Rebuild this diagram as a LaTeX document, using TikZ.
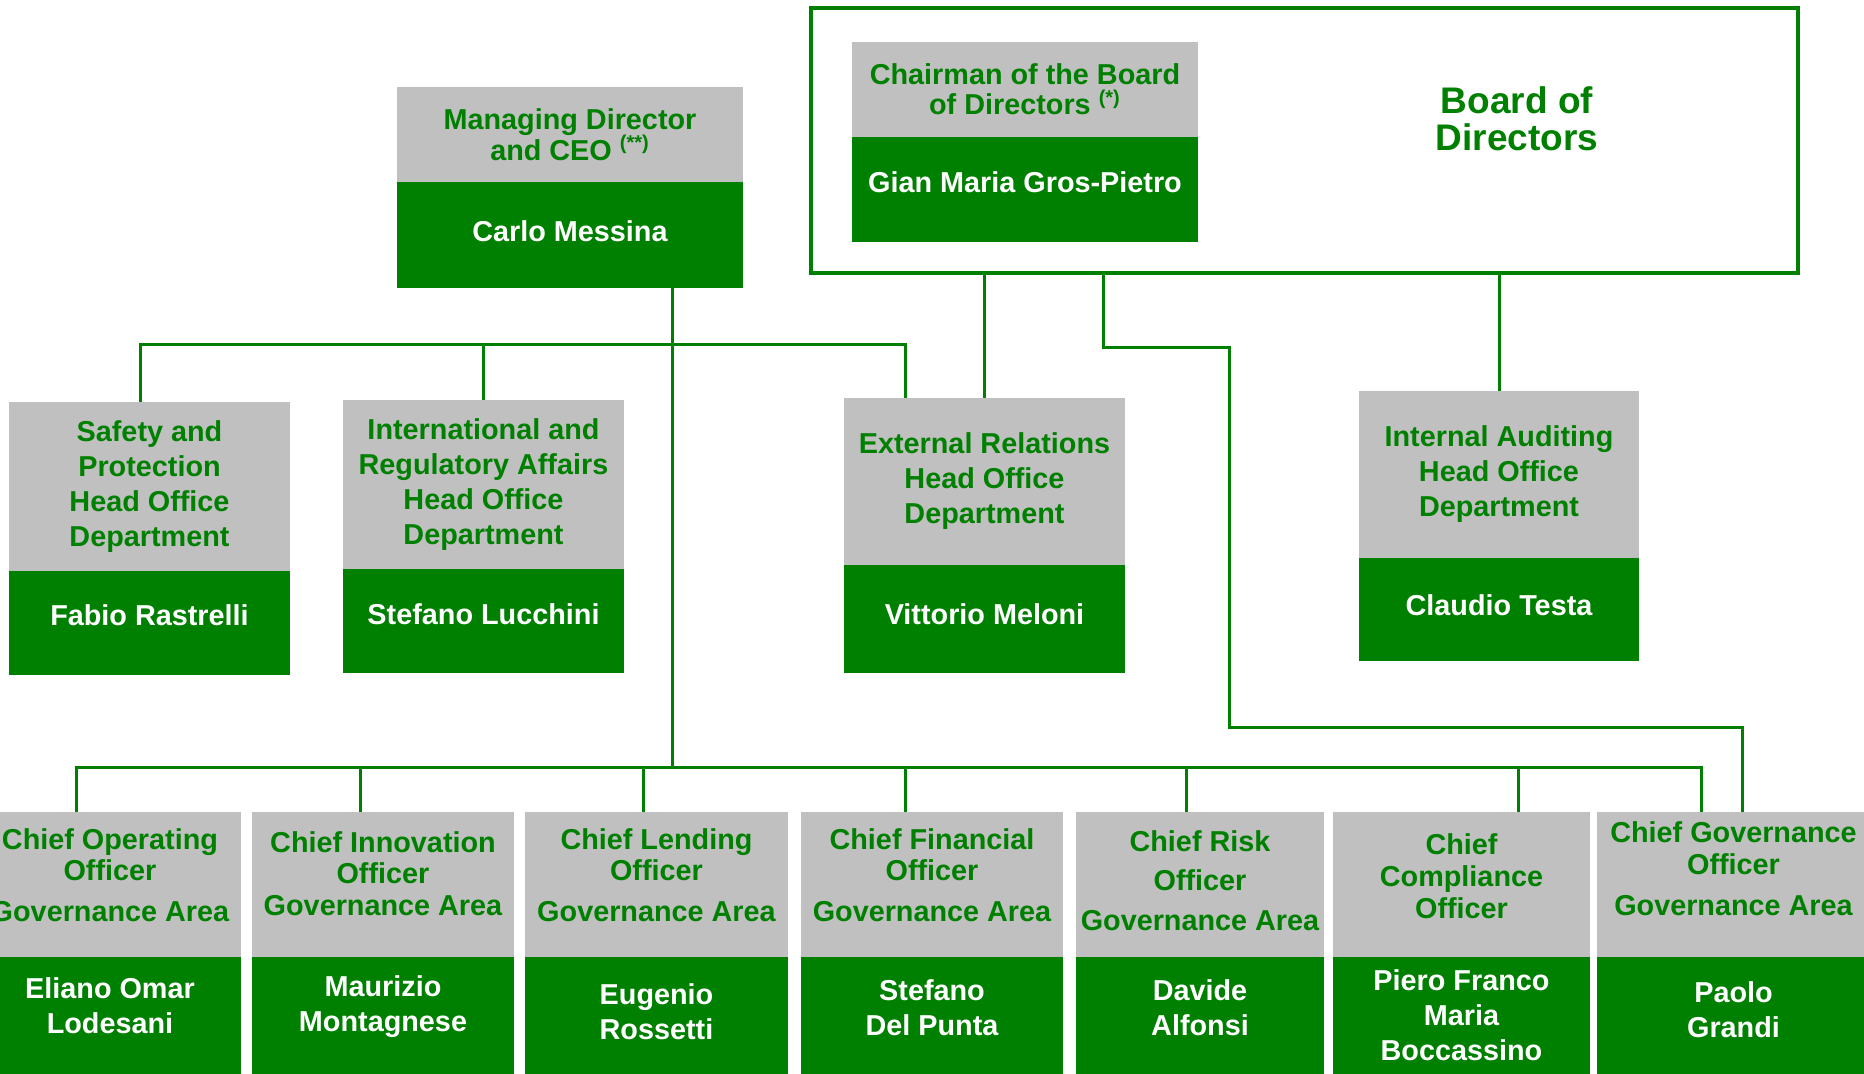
\documentclass[tikz,border=0pt]{standalone}
\usepackage{fontspec}
\setmainfont{Liberation Sans}
\definecolor{bankgreen}{RGB}{0,128,0}
\definecolor{boxgray}{RGB}{192,192,192}
\newcommand{\lowpad}[1]{\rule[-#1]{0pt}{#1}}
\tikzset{
  grayhead/.style={fill=boxgray, text=bankgreen, inner sep=0pt, align=center,
    font=\bfseries\fontsize{14.4}{17.5}\selectfont},
  greenname/.style={fill=bankgreen, text=white, inner sep=0pt, align=center,
    font=\bfseries\fontsize{14.4}{17.5}\selectfont},
  link/.style={draw=bankgreen, line width=1.5pt},
}
\begin{document}
\begin{tikzpicture}[x=0.5pt,y=-0.5pt]
            \useasboundingbox (0,0) rectangle (1864,1074);
            \clip (0,0) rectangle (1864,1074);
            \coordinate (topbus) at (0,345);
            \coordinate (lowbus) at (0,767);
            \coordinate (bendA) at (1229,348);
            \coordinate (bendB) at (1229,728);
            \node[draw=bankgreen, line width=1.75pt, minimum width=493.5pt, minimum height=132.5pt, inner sep=0pt] (board) at (1304.5,140.5) {};
            \node[text=bankgreen, align=center, font=\bfseries\fontsize{18.5}{18.5}\selectfont] (boardlbl) at (1517,119) {Board of\\Directors};
            \node[grayhead, minimum width=173pt, minimum height=47.5pt] (chairT) at (1025,89.5) {Chairman of the Board\\[-2.5pt]of Directors \textsuperscript{(*)}};
            \node[greenname, minimum width=173pt, minimum height=52.5pt] (chairP) at (1025,189.5) {Gian Maria Gros-Pietro\lowpad{7pt}};
            \node[grayhead, minimum width=173pt, minimum height=47.5pt] (ceoT) at (570,134.5) {Managing Director\\[-2pt]and CEO \textsuperscript{(**)}};
            \node[greenname, minimum width=173pt, minimum height=53pt] (ceoP) at (570,235) {Carlo Messina\lowpad{3.5pt}};
            \node[grayhead, minimum width=140.5pt, minimum height=84.5pt] (safT) at (149.5,486.5) {Safety and\\Protection\\Head Office\\Department};
            \node[greenname, minimum width=140.5pt, minimum height=52pt] (safP) at (149.5,623) {Fabio Rastrelli\lowpad{8pt}};
            \node[grayhead, minimum width=140.5pt, minimum height=84.5pt] (intT) at (483.5,484.5) {International and\\Regulatory Affairs\\Head Office\\Department};
            \node[greenname, minimum width=140.5pt, minimum height=52pt] (intP) at (483.5,621) {Stefano Lucchini\lowpad{7pt}};
            \node[grayhead, minimum width=140.5pt, minimum height=83.5pt] (extT) at (984.5,481.5) {External Relations\\Head Office\\Department};
            \node[greenname, minimum width=140.5pt, minimum height=54pt] (extP) at (984.5,619) {Vittorio Meloni\lowpad{5pt}};
            \node[grayhead, minimum width=140pt, minimum height=83.5pt] (audT) at (1499,474.5) {Internal Auditing\\Head Office\\Department};
            \node[greenname, minimum width=140pt, minimum height=51.5pt] (audP) at (1499,609.5) {Claudio Testa\lowpad{4pt}};
            \node[grayhead, minimum width=131pt, minimum height=72.5pt] (cooT) at (110,884.5) {Chief Operating\\[-2pt]Officer\\[3pt]Governance Area\lowpad{9pt}};
            \node[greenname, minimum width=131pt, minimum height=58.5pt] (cooP) at (110,1015.5) {Eliano Omar\\Lodesani\lowpad{10pt}};
            \node[grayhead, minimum width=131pt, minimum height=72.5pt] (cioT) at (383,884.5) {Chief Innovation\\[-2pt]Officer\\[-1.5pt]Governance Area\lowpad{10.5pt}};
            \node[greenname, minimum width=131pt, minimum height=58.5pt] (cioP) at (383,1015.5) {Maurizio\\Montagnese\lowpad{12pt}};
            \node[grayhead, minimum width=131.5pt, minimum height=72.5pt] (cloT) at (656.5,884.5) {Chief Lending\\[-2pt]Officer\\[3pt]Governance Area\lowpad{9pt}};
            \node[greenname, minimum width=131.5pt, minimum height=58.5pt] (cloP) at (656.5,1015.5) {Eugenio\\Rossetti\lowpad{4pt}};
            \node[grayhead, minimum width=131pt, minimum height=72.5pt] (cfoT) at (932,884.5) {Chief Financial\\[-2pt]Officer\\[3pt]Governance Area\lowpad{9pt}};
            \node[greenname, minimum width=131pt, minimum height=58.5pt] (cfoP) at (932,1015.5) {Stefano\\Del Punta\lowpad{8pt}};
            \node[grayhead, minimum width=124pt, minimum height=72.5pt] (croT) at (1200,884.5) {Chief Risk\\[2pt]Officer\\[2.5pt]Governance Area\lowpad{4pt}};
            \node[greenname, minimum width=124pt, minimum height=58.5pt] (croP) at (1200,1015.5) {Davide\\Alfonsi\lowpad{8pt}};
            \node[grayhead, minimum width=128.5pt, minimum height=72.5pt] (ccoT) at (1461.5,884.5) {Chief\\[-1.5pt]Compliance\\[-1.5pt]Officer\lowpad{8pt}};
            \node[greenname, minimum width=128.5pt, minimum height=58.5pt] (ccoP) at (1461.5,1015.5) {Piero Franco\\Maria\\Boccassino};
            \node[grayhead, minimum width=136.5pt, minimum height=72.5pt] (cgoT) at (1733.5,884.5) {Chief Governance\\[-1.5pt]Officer\\[3pt]Governance Area\lowpad{15.5pt}};
            \node[greenname, minimum width=136.5pt, minimum height=58.5pt] (cgoP) at (1733.5,1015.5) {Paolo\\Grandi\lowpad{5.5pt}};
            \draw[link] ([xshift=51pt]ceoP.south) -- ([xshift=51pt]ceoP.south |- lowbus);
            \draw[link] ([xshift=-4.75pt]safT.north) -- ([xshift=-4.75pt]safT.north |- topbus) -- ([xshift=-39.75pt]extT.north |- topbus) -- ([xshift=-39.75pt]extT.north);
            \draw[link] (intT.north) -- (intT.north |- topbus);
            \draw[link] (extT.north) -- (extT.north |- board.south);
            \draw[link] (audT.north) -- (audT.north |- board.south);
            \draw[link] ([xshift=-100.75pt]board.south) |- (bendA) -- (bendB) -| ([xshift=4.25pt]cgoT.north);
            \draw[link] ([xshift=-17pt]cooT.north) -- ([xshift=-17pt]cooT.north |- lowbus) -| ([xshift=-16.25pt]cgoT.north);
            \draw[link] ([xshift=-11.5pt]cioT.north) -- ([xshift=-11.5pt]cioT.north |- lowbus);
            \draw[link] ([xshift=-6.75pt]cloT.north) -- ([xshift=-6.75pt]cloT.north |- lowbus);
            \draw[link] ([xshift=-13.5pt]cfoT.north) -- ([xshift=-13.5pt]cfoT.north |- lowbus);
            \draw[link] ([xshift=-7pt]croT.north) -- ([xshift=-7pt]croT.north |- lowbus);
            \draw[link] ([xshift=28.25pt]ccoT.north) -- ([xshift=28.25pt]ccoT.north |- lowbus);
\end{tikzpicture}
\end{document}
